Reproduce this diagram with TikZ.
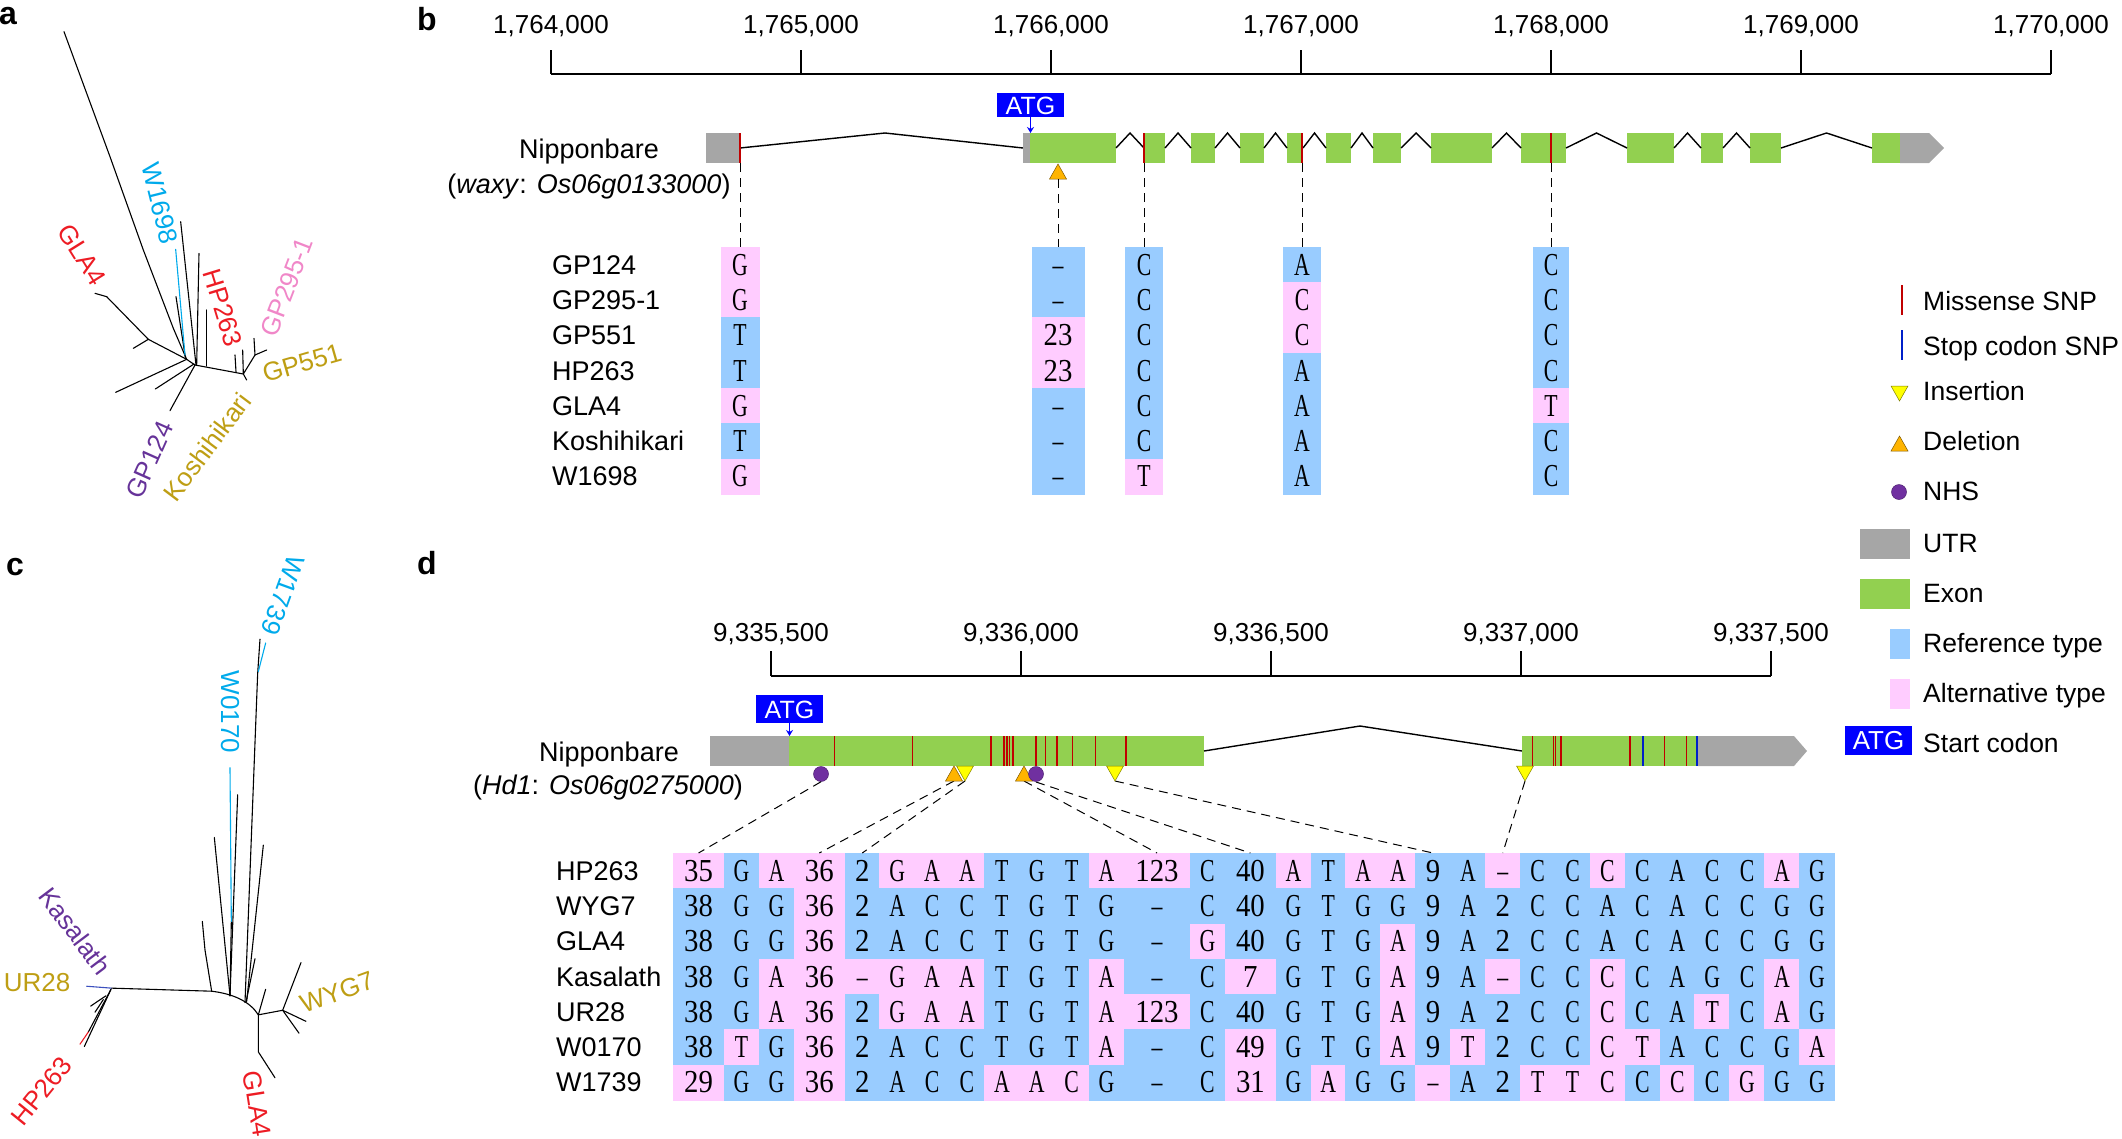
\documentclass[tikz,border=0pt]{standalone}
\usepackage{fontspec}
\setmainfont{Liberation Sans}
\newfontfamily\seqL[FakeStretch=0.68]{Liberation Serif}
\newfontfamily\seqD[FakeStretch=0.9]{Liberation Serif}
\usetikzlibrary{arrows.meta}
\definecolor{cr}{RGB}{153,204,255}
\definecolor{ca}{RGB}{255,204,255}
\definecolor{exonc}{RGB}{146,208,80}
\definecolor{utrc}{RGB}{166,166,166}
\definecolor{snpc}{RGB}{192,0,0}
\definecolor{stopc}{RGB}{0,32,200}
\definecolor{insc}{RGB}{255,255,0}
\definecolor{delc}{RGB}{255,180,0}
\definecolor{nhsc}{RGB}{112,48,160}
\definecolor{atgc}{RGB}{0,0,255}
\definecolor{tred}{RGB}{237,28,36}
\definecolor{tcyan}{RGB}{0,170,235}
\definecolor{tpink}{RGB}{240,135,200}
\definecolor{tolive}{RGB}{190,158,20}
\definecolor{tpurple}{RGB}{102,51,153}
\definecolor{tblue}{RGB}{60,80,190}
\newcommand\fs[1]{\fontsize{#1}{#1}\selectfont}
\newcommand\sq[1]{\ifnum0<0#1\relax{\seqD #1}\else{\seqL #1}\fi}
\tikzset{
  tbranch/.style={line width=1.1pt, line cap=round},
  intron/.style={line width=1.4pt},
  axisline/.style={line width=2pt},
  ticklab/.style={font=\fs{26}, inner sep=0pt, anchor=base},
  txtlab/.style={font=\fs{27}, inner sep=0pt},
  leglab/.style={font=\fs{26.5}, inner sep=0pt, anchor=base west},
  panel/.style={font=\fs{32}\bfseries, inner sep=0pt},
  seqbg/.style={rectangle, inner sep=0pt, minimum height=35.3pt, line width=0.5pt},
  seqtxt/.style={inner sep=0pt, text height=21pt, text depth=0pt, font=\fs{32}},
  atgbox/.style={rectangle, fill=atgc, text=white, inner sep=0pt, font=\fs{25}, text height=18pt, text depth=0pt, minimum width=67pt},
  conn/.style={dash pattern=on 9pt off 6pt, line width=1pt},
  nhs/.style={circle, fill=nhsc, draw=nhsc!70!black, line width=0.5pt, minimum size=15pt, inner sep=0pt},
  snp/.style={draw=snpc, line width=1.2pt},
  stopl/.style={draw=stopc, line width=1.2pt},
  tlab/.style={font=\fs{26}, inner sep=0pt},
  atgarrow/.style={draw=atgc, line width=1.3pt, -{Stealth[length=6pt,width=7pt]}},
}
\newcommand\insmark[2]{\filldraw[fill=insc, draw=insc!50!black, line width=0.5pt] (#1,#2) ++(-8.5,0) -- ++(17,0) -- ++(-8.5,15) -- cycle;}
\newcommand\delmark[2]{\filldraw[fill=delc, draw=delc!50!black, line width=0.5pt] (#1,#2) -- ++(8.5,15) -- ++(-17,0) -- cycle;}
\newcommand\bcol[4]{%
  \foreach \t/\v [count=\ri] in {#4} {%
    \pgfmathsetmacro\yy{247+35.3*(\ri-0.5)}%
    \edef\cc{c\t}%
    \node[seqbg, fill=\cc, draw=\cc, minimum width=#3pt] (bc#1r\ri) at (#2,\yy) {};
    \node[seqtxt] (bt#1r\ri) at (bc#1r\ri.center) {\sq{\v}};
  }}
\newcommand\drow[3]{%
  \foreach \t/\v [count=\ci] in {#2} {%
    \edef\cx{\csname dcx\ci\endcsname}%
    \edef\cw{\csname dcw\ci\endcsname}%
    \edef\cc{c\t}%
    \node[seqbg, fill=\cc, draw=\cc, minimum width=\cw pt] (d#1c\ci) at (\cx,#3) {};
    \node[seqtxt] (dt#1c\ci) at (d#1c\ci.center) {\sq{\v}};
  }}
\begin{document}
\begin{tikzpicture}[x=1pt,y=-1pt]
\useasboundingbox (0,0) rectangle (2122,1138);

% ---------------- panel labels
\node[panel] (pa) at (8,16) {a};
\node[panel] (pb) at (427,19) {b};
\node[panel] (pc) at (15,567) {c};
\node[panel] (pd) at (427,563) {d};

% ---------------- panel a tree
\begin{scope}[scale=1/3]
\draw[tbranch] (192,95)--(330,470)--(430,750)--(520,985)--(560,1078);
\draw[tbranch] (560,1078)--(585,1095);
\draw[tbranch] (560,1078)--(445,1018)--(320,890)--(285,880);
\draw[tbranch] (445,1018)--(400,1045);
\draw[tbranch] (542,665)--(588,1095);
\draw[tbranch] (597,760)--(590,1095);
\draw[tbranch] (528,890)--(556,1072);
\draw[tbranch] (620,930)--(620,1098);
\draw[tbranch,tcyan] (527,748)--(555,1065);
\draw[tbranch] (585,1095)--(730,1122);
\draw[tbranch] (705,1065)--(708,1115);
\draw[tbranch] (728,1050)--(730,1122);
\draw[tbranch] (730,1122)--(765,1065)--(800,1050);
\draw[tbranch] (765,1065)--(762,1015);
\draw[tbranch] (730,1122)--(740,1140);
\draw[tbranch] (560,1078)--(347,1177);
\draw[tbranch] (582,1092)--(466,1167);
\draw[tbranch] (585,1095)--(510,1232);
\end{scope}
\node[tlab, text=tred, rotate=-58] (aGLA4) at (82,255) {GLA4};
\node[tlab, text=tcyan, rotate=-76] (aW1698) at (160,203) {W1698};
\node[tlab, text=tred, rotate=-73] (aHP263) at (223,308) {HP263};
\node[tlab, text=tpink, rotate=69] (aGP295) at (287,287) {GP295-1};
\node[tlab, text=tolive, rotate=16] (aGP551) at (302,363) {GP551};
\node[tlab, text=tpurple, rotate=66] (aGP124) at (150,460) {GP124};
\node[tlab, text=tolive, rotate=53] (aKoshi) at (207,447) {Koshihikari};

% ---------------- panel c tree
\begin{scope}[shift={(0,540)},xscale=1/3,yscale=1/2.622]
\draw[tbranch,tblue] (260,1170)--(335,1175);
\draw[tbranch] (335,1175)--(635,1183);
\draw[tbranch] (333,1178)--(253,1328);
\draw[tbranch] (333,1178)--(265,1290);
\draw[tbranch,tred] (265,1290)--(240,1322);
\draw[tbranch] (318,1195)--(272,1222);
\draw[tbranch] (310,1205)--(285,1238);
\draw[tbranch] (635,1183)--(615,1075)--(607,1000);
\draw[tbranch] (635,1183) .. controls (700,1190) and (750,1210) .. (775,1245);
\draw[tbranch] (690,1195)--(643,780);
\draw[tbranch] (690,1195)--(713,668);
\draw[tbranch] (690,1195)--(694,1000);
\draw[tbranch,tcyan] (694,1000)--(690,597);
\draw[tbranch] (735,1213)--(773,350)--(780,260);
\draw[tbranch,tcyan] (775,345)--(797,270);
\draw[tbranch] (740,1210)--(790,800);
\draw[tbranch] (738,1212)--(765,1098);
\draw[tbranch] (775,1245)--(797,1178);
\draw[tbranch] (775,1245)--(848,1233)--(903,1108);
\draw[tbranch] (848,1233)--(918,1262);
\draw[tbranch] (848,1233)--(897,1293);
\draw[tbranch] (775,1245)--(775,1342)--(825,1410);
\end{scope}
\node[tlab, text=tcyan, rotate=-110] (cW1739) at (283,595) {W1739};
\node[tlab, text=tcyan, rotate=-90] (cW0170) at (230,712) {W0170};
\node[tlab, text=tpurple, rotate=-53] (cKas) at (75,931) {Kasalath};
\node[tlab, text=tolive] (cUR28) at (37,983) {UR28};
\node[tlab, text=tred, rotate=51] (cHP263) at (42,1091) {HP263};
\node[tlab, text=tred, rotate=-81] (cGLA4) at (257,1104) {GLA4};
\node[tlab, text=tolive, rotate=20] (cWYG7) at (337,992) {WYG7};

% ---------------- panel b axis
\draw[axisline] (551,74) -- (2051,74);
\foreach \i/\lab in {0/{1,764,000},1/{1,765,000},2/{1,766,000},3/{1,767,000},4/{1,768,000},5/{1,769,000},6/{1,770,000}} {
  \draw[axisline] (551+250*\i,50) -- (551+250*\i,74);
  \node[ticklab] (bt\i) at (551+250*\i,33) {\lab};
}

% ---------------- panel b gene
\fill[utrc] (706,133) rectangle (740,163);
\draw[intron] (740,148)--(885,133)--(1023,148);
\fill[utrc] (1023,133) rectangle (1030,163);
\foreach \s/\e in {1030/1116,1144/1165,1191/1215,1240/1264,1287/1303,1326/1351,1373/1401,1431/1492,1521/1566,1627/1674,1701/1723,1750/1781,1872/1900}
  \fill[exonc] (\s,133) rectangle (\e,163);
\foreach \a/\b in {1116/1144,1165/1191,1215/1240,1264/1287,1303/1326,1351/1373,1401/1431,1492/1521,1566/1627,1674/1701,1723/1750,1781/1872}
  \draw[intron] (\a,148) -- ({(\a+\b)/2},133) -- (\b,148);
\fill[utrc] (1900,133) -- (1929,133) -- (1944,148) -- (1929,163) -- (1900,163) -- cycle;
\foreach \x in {740,1144,1302,1551} \draw[snp] (\x,133) -- (\x,163);
\node[atgbox, minimum height=24pt] (atgb) at (1030.5,105) {ATG};
\draw[atgarrow] (atgb.south) -- (1030.5,133);
\delmark{1058}{164}
\coordinate (bs1) at (740,163);
\coordinate (bs2) at (1058,179);
\coordinate (bs3) at (1144,163);
\coordinate (bs4) at (1302,163);
\coordinate (bs5) at (1551,163);
\node[txtlab, anchor=base] (bnip) at (589,158) {Nipponbare};
\node[txtlab, anchor=base] (bwaxy) at (589,193) {(\textit{waxy}: \textit{Os06g0133000})};

% ---------------- panel b alignment
\foreach \n [count=\ri] in {GP124,GP295-1,GP551,HP263,GLA4,Koshihikari,W1698} {
  \pgfmathsetmacro\yy{247+35.3*(\ri-0.5)+9.5}
  \node[txtlab, anchor=base west] (bn\ri) at (552,\yy) {\n};
}
\bcol{1}{740}{38}{a/G,a/G,r/T,r/T,a/G,r/T,a/G}
\bcol{2}{1058}{52}{r/–,r/–,a/23,a/23,r/–,r/–,r/–}
\bcol{3}{1144}{37}{r/C,r/C,r/C,r/C,r/C,r/C,a/T}
\bcol{4}{1302}{37}{r/A,a/C,a/C,r/A,r/A,r/A,r/A}
\bcol{5}{1551}{35}{r/C,r/C,r/C,r/C,a/T,r/C,r/C}
\foreach \k in {1,...,5} \draw[conn] (bs\k) -- (bs\k |- bc\k r1.north);

% ---------------- legend
\draw[snp] (1902,285) -- (1902,315);
\node[leglab] (lg1) at (1923,310) {Missense SNP};
\draw[stopl] (1902,330) -- (1902,360);
\node[leglab] (lg2) at (1923,355) {Stop codon SNP};
\insmark{1899.5}{386}
\node[leglab] (lg3) at (1923,400) {Insertion};
\delmark{1899.5}{436}
\node[leglab] (lg4) at (1923,450) {Deletion};
\node[nhs] (lgn) at (1899,492) {};
\node[leglab] (lg5) at (1923,500) {NHS};
\fill[utrc] (1860,529) rectangle (1910,559);
\node[leglab] (lg6) at (1923,552) {UTR};
\fill[exonc] (1860,579) rectangle (1910,609);
\node[leglab] (lg7) at (1923,602) {Exon};
\fill[cr] (1890,629) rectangle (1910,659);
\node[leglab] (lg8) at (1923,652) {Reference type};
\fill[ca] (1890,679) rectangle (1910,709);
\node[leglab] (lg9) at (1923,702) {Alternative type};
\node[atgbox, minimum height=29pt, font=\fs{26}] (lgatg) at (1878.5,740.5) {ATG};
\node[leglab] (lg10) at (1923,752) {Start codon};

% ---------------- panel d axis
\draw[axisline] (771,676) -- (1771,676);
\foreach \i/\lab in {0/{9,335,500},1/{9,336,000},2/{9,336,500},3/{9,337,000},4/{9,337,500}} {
  \draw[axisline] (771+250*\i,651) -- (771+250*\i,676);
  \node[ticklab] (dt\i) at (771+250*\i,641) {\lab};
}

% ---------------- panel d gene
\fill[utrc] (710,736) rectangle (789,766);
\fill[exonc] (789,736) rectangle (1204,766);
\foreach \x in {834.5,912.5,991,1004,1007,1009.5,1013,1036,1045.7,1057,1072.7,1095.7,1126} \draw[snp] (\x,736) -- (\x,766);
\draw[intron] (1204,751)--(1360,726)--(1522,751);
\fill[exonc] (1522,736) rectangle (1698,766);
\fill[utrc] (1698,736) -- (1794,736) -- (1807,751) -- (1794,766) -- (1698,766) -- cycle;
\foreach \x in {1532.7,1553.7,1555.3,1561,1630,1664.3,1686.5} \draw[snp] (\x,736) -- (\x,766);
\foreach \x in {1643,1697} \draw[stopl] (\x,736) -- (\x,766);
\node[atgbox, minimum height=28pt] (atgd) at (789.5,709) {ATG};
\draw[atgarrow] (atgd.south) -- (789.5,736);
\node[txtlab, anchor=base] (dnip) at (609,761) {Nipponbare};
\node[txtlab, anchor=base] (dhd) at (608,794) {(\textit{Hd1}: \textit{Os06g0275000})};

% ---------------- panel d alignment
\gdef\dAcc{673}
\foreach \w [count=\k] in {51,34.9,34.9,51,34.9,34.9,34.9,34.9,34.9,34.9,34.9,34.9,66,34.9,51,34.9,34.9,34.9,34.9,34.9,34.9,34.9,34.9,34.9,34.9,34.9,34.9,34.9,34.9,34.9,34.9} {
  \pgfmathsetmacro\cen{\dAcc+\w/2}
  \expandafter\xdef\csname dcx\k\endcsname{\cen}
  \expandafter\xdef\csname dcw\k\endcsname{\w}
  \pgfmathsetmacro\nacc{\dAcc+\w}
  \xdef\dAcc{\nacc}
}
\foreach \n [count=\ri] in {HP263,WYG7,GLA4,Kasalath,UR28,W0170,W1739} {
  \pgfmathsetmacro\yy{853.3+35.25*(\ri-0.5)+9.5}
  \node[txtlab, anchor=base west] (dn\ri) at (556,\yy) {\n};
}
\drow{1}{a/35,r/G,a/A,a/36,r/2,a/G,a/A,a/A,r/T,r/G,r/T,a/A,a/123,r/C,r/40,a/A,r/T,a/A,a/A,r/9,r/A,a/–,r/C,r/C,a/C,r/C,r/A,r/C,r/C,a/A,r/G}{870.9}
\drow{2}{r/38,r/G,r/G,a/36,r/2,r/A,r/C,r/C,r/T,r/G,r/T,r/G,r/–,r/C,r/40,r/G,r/T,r/G,r/G,r/9,r/A,r/2,r/C,r/C,r/A,r/C,r/A,r/C,r/C,r/G,r/G}{906.2}
\drow{3}{r/38,r/G,r/G,a/36,r/2,r/A,r/C,r/C,r/T,r/G,r/T,r/G,r/–,a/G,r/40,r/G,r/T,r/G,a/A,r/9,r/A,r/2,r/C,r/C,r/A,r/C,r/A,r/C,r/C,r/G,r/G}{941.4}
\drow{4}{r/38,r/G,a/A,a/36,a/–,a/G,a/A,a/A,r/T,r/G,r/T,a/A,r/–,r/C,a/7,r/G,r/T,r/G,a/A,r/9,r/A,a/–,r/C,r/C,a/C,r/C,r/A,r/G,r/C,a/A,r/G}{976.7}
\drow{5}{r/38,r/G,a/A,a/36,r/2,a/G,a/A,a/A,r/T,r/G,r/T,a/A,a/123,r/C,r/40,r/G,r/T,r/G,a/A,r/9,r/A,r/2,r/C,r/C,a/C,r/C,r/A,a/T,r/C,a/A,r/G}{1011.9}
\drow{6}{r/38,a/T,r/G,a/36,r/2,r/A,r/C,r/C,r/T,r/G,r/T,a/A,r/–,r/C,a/49,r/G,r/T,r/G,a/A,r/9,a/T,r/2,r/C,r/C,a/C,a/T,r/A,r/C,r/C,r/G,a/A}{1047.2}
\drow{7}{a/29,r/G,r/G,a/36,r/2,r/A,r/C,r/C,a/A,a/A,a/C,r/G,r/–,r/C,a/31,r/G,a/A,r/G,r/G,a/–,r/A,r/2,a/T,a/T,a/C,r/C,a/C,r/C,a/G,r/G,r/G}{1082.4}

% markers and connectors
\coordinate (del1) at (954,781);
\coordinate (ins1) at (965,781);
\coordinate (del2) at (1024,781);
\coordinate (ins2) at (1115,781);
\coordinate (ins3) at (1525,781);
\node[nhs] (nhs1) at (821,774) {};
\draw[conn] (nhs1.south) -- (d1c1.north);
\draw[conn] (del1) -- (d1c4.north);
\draw[conn] (ins1) -- (d1c5.north);
\draw[conn] (del2) -- (d1c13.north);
\draw[conn] (1036,782) -- (d1c15.north);
\draw[conn] (ins2) -- (d1c20.north);
\draw[conn] (ins3) -- (d1c22.north);
\delmark{954}{766}
\insmark{965}{766}
\delmark{1024}{766}
\node[nhs] (nhs2) at (1036,774) {};
\insmark{1115}{766}
\insmark{1525}{766}
\end{tikzpicture}
\end{document}
